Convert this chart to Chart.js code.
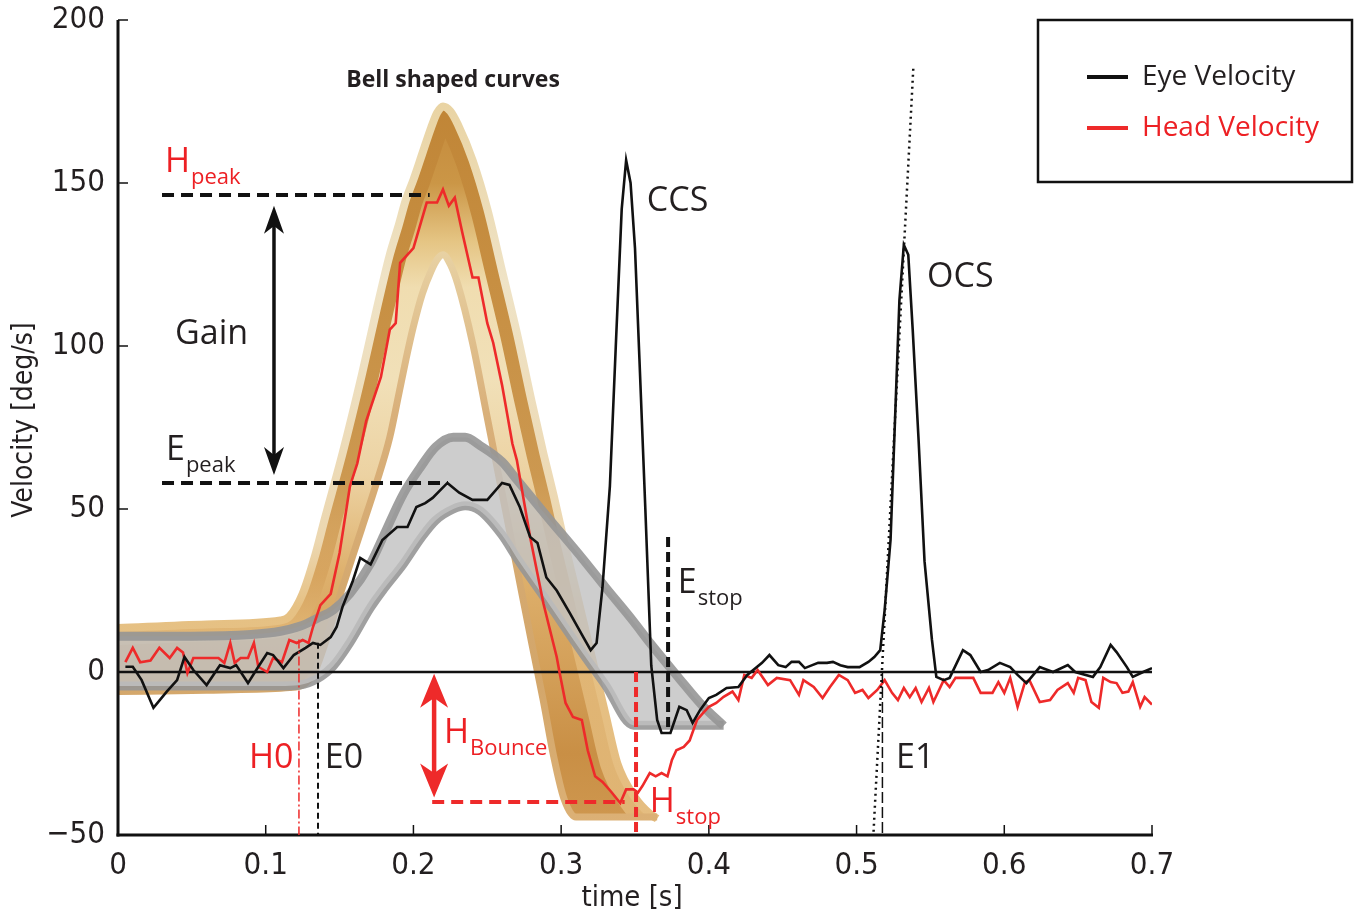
<!DOCTYPE html>
<html>
<head>
<meta charset="utf-8">
<script src="https://cdn.jsdelivr.net/npm/chart.js@4.4.1/dist/chart.umd.min.js"></script>
<style>
  html, body { margin: 0; padding: 0; background: #fff; }
  #wrap { width: 1358px; height: 918px; }
</style>
</head>
<body>
<div id="wrap"><canvas id="chart" width="1358" height="918"></canvas></div>
<script>
'use strict';

// ── Data ────────────────────────────────────────────────────────────────────

const Y_TICKS = [-50, 0, 50, 100, 150, 200];
const X_TICKS = [0, 0.1, 0.2, 0.3, 0.4, 0.5, 0.6, 0.7];

const eyeT = [0.005,0.010,0.016,0.024,0.033,0.040,0.045,0.051,0.060,0.069,0.076,0.080,0.088,0.095,0.101,0.105,
  0.112,0.119,0.127,0.132,0.137,0.144,0.148,0.152,0.159,0.164,0.171,0.179,0.189,0.196,0.202,0.208,0.213,0.223,
  0.231,0.240,0.250,0.260,0.265,0.272,0.279,0.284,0.290,0.297,0.306,0.315,0.320,0.324,0.328,0.333,0.337,0.341,
  0.344,0.347,0.350,0.353,0.357,0.361,0.365,0.368,0.374,0.380,0.385,0.389,0.394,0.400,0.405,0.412,0.420,0.426,
  0.436,0.441,0.447,0.452,0.456,0.461,0.465,0.470,0.474,0.480,0.484,0.489,0.494,0.502,0.508,0.512,0.516,0.519,
  0.523,0.526,0.529,0.532,0.535,0.538,0.542,0.546,0.551,0.554,0.559,0.563,0.572,0.577,0.584,0.589,0.597,0.604,
  0.609,0.615,0.624,0.633,0.643,0.648,0.660,0.665,0.672,0.676,0.683,0.687,0.694,0.700];
const eyeV = [1.6,1.6,-2.5,-11,-6,-2.5,4.6,0.6,-4,2.1,1.2,2.1,-3.4,1.6,5.8,5.2,
  1.2,5.2,7.4,8.9,8.3,10.7,13.8,20,28,35,33,40.5,44.5,44.5,50.6,51.8,53.4,58,
  55,52.8,52.8,58,57.4,50.6,41.4,39.6,29,25,18,10.7,6.7,8.9,26,57,100,142,
  157,150,130,96,50,2,-14.7,-18.7,-18.7,-10.7,-11.7,-15.6,-11.7,-8,-7,-4.9,-4.6,-0.9,
  2.8,5.2,2.1,1.5,3.1,3.1,1.2,2.1,2.8,2.8,3.1,2.1,1.5,1.5,3.1,4.6,6.7,19,
  40.5,77,114,131,128,105,71,34,10,-1.5,-2.5,-1.8,6.7,5.2,0,0.6,2.8,1.5,
  -0.9,-3.4,1.5,0,2.1,0,-1.5,1.5,8.3,6.1,1.5,-1.5,0,1.2];

const headT = [0.005,0.010,0.015,0.022,0.028,0.035,0.040,0.044,0.047,0.051,0.060,0.068,0.072,0.076,0.079,0.083,
  0.088,0.092,0.095,0.101,0.105,0.111,0.116,0.121,0.125,0.129,0.132,0.137,0.144,0.150,0.157,0.162,0.168,0.178,
  0.184,0.188,0.191,0.200,0.209,0.216,0.220,0.224,0.228,0.233,0.240,0.244,0.250,0.254,0.260,0.267,0.270,0.279,
  0.288,0.297,0.299,0.303,0.308,0.314,0.318,0.323,0.328,0.334,0.340,0.344,0.349,0.352,0.355,0.360,0.364,0.368,
  0.372,0.375,0.378,0.383,0.387,0.392,0.396,0.400,0.405,0.410,0.416,0.420,0.424,0.429,0.433,0.440,0.446,0.455,
  0.461,0.464,0.471,0.477,0.482,0.488,0.494,0.499,0.504,0.508,0.514,0.519,0.524,0.528,0.532,0.536,0.540,0.544,
  0.549,0.552,0.559,0.563,0.567,0.579,0.584,0.592,0.596,0.600,0.604,0.609,0.614,0.617,0.624,0.631,0.636,0.643,
  0.647,0.650,0.655,0.659,0.664,0.667,0.672,0.676,0.680,0.684,0.687,0.692,0.695,0.700];
const headV = [3,7.4,3,3.5,7.4,4.3,7.4,6,-0.3,4.3,4.3,4.3,2.8,8.9,2.8,4.3,
  4.3,8.9,1.6,0,4.3,3,9.8,8.9,9.8,8.9,13.8,20.5,24,36.5,57,64,77,90.5,
  105,107,125.5,130,144,144,148,143,145.5,135,121,121,107,101,88,70,65,41.4,
  21,4.6,-0.3,-9.5,-13.8,-14.7,-24,-32,-33.7,-36.8,-40.2,-36,-36,-37,-35,-31,-32,-31,
  -32,-27,-24,-23,-21,-14.7,-12.6,-10.7,-9.5,-7.6,-6,-8.6,-0.9,-1.8,0.6,-4,-1.8,-2.5,
  -7,-2.5,-4.6,-8,-4.6,-0.9,-2.5,-6.4,-5.5,-8,-5.5,-2.5,-6.4,-8.6,-4.9,-7.7,-4.9,-9.2,
  -4.9,-9.2,-2.5,-4.6,-1.8,-1.8,-6.4,-6.4,-3.1,-6.4,-1.8,-10.7,-3.1,-2.5,-9.2,-8.6,-5.5,-3.4,
  -6.4,-1.8,-2.5,-9.2,-11,-1.8,-3.1,-3.4,-6.4,-6,-3.1,-10.7,-7.7,-10];

// gold "bell shaped" envelope for head velocity
const goldT = [0,0.06,0.11,0.116,0.125,0.133,0.14,0.152,0.165,0.175,0.184,0.19,0.195,0.2,0.206,0.212,0.216,
  0.22,0.225,0.23,0.24,0.25,0.26,0.27,0.28,0.288,0.295,0.302,0.31,0.32,0.33,0.338,0.35,0.36,0.365];
const goldOuter = [13.5,14.6,15.8,17,24,35,47,67,91,111,128,137,145,151,159,167,171.5,
  173.5,172,168,157,142,123,104,83,67,54,40,25,6,-13,-28,-38.5,-43.5,-45];
const goldInner = [-6,-5.6,-5,-4.8,-4,0,8.5,26,44,58,72,85,96,106,116,123,126.5,
  128,125,119,101,78,55,32,9,-9,-26,-39,-44.5,-44.5,-44.5,-44.5,-44.5,-44.5,-44.5];

// gray envelope for eye velocity
const grayT = [0,0.05,0.09,0.11,0.123,0.135,0.1456,0.157,0.1706,0.18,0.193,0.205,0.215,0.227,0.235,0.245,
  0.26,0.27,0.29,0.315,0.33,0.349,0.36,0.38,0.395,0.41];
const grayUpper = [11,11,11.5,12.5,14,16.5,19,24,33,42,54.5,63,69,72,72,69.5,
  64.5,59,48,34.5,26,15.5,9,-2,-10,-16.5];
const grayLower = [-4.3,-4.3,-4.3,-4.3,-4,-2,1.8,9,19.5,25.5,33,41,46.5,50,51,49.5,
  42,35,22,5.5,-4,-16.3,-16.3,-16.3,-16.3,-16.3];

// ── Annotation positions (data units) ───────────────────────────────────────

const H_PEAK = 146.3, E_PEAK = 58, ANNOT_X0 = 0.0298;
const GAIN_X = 0.1056, GAIN_TOP = 143, GAIN_BOT = 60.4;
const BOUNCE_X = 0.214, BOUNCE_TOP = -0.5, BOUNCE_BOT = -38.5, BOUNCE_LVL = -39.9;
const H0_X = 0.1225, E0_X = 0.1354, HSTOP_X = 0.3507, ESTOP_X = 0.3724, E1_X = 0.5175;

const LABELS = [
  { t: 'Bell shaped curves', x: 0.2268, y: 179.5, size: 23, bold: true, color: '#231f20', align: 'center' },
  { t: 'H', sub: 'peak', x: 0.0318, y: 153.4, color: '#ed2024' },
  { t: 'Gain', x: 0.0386, y: 100.5, color: '#231f20' },
  { t: 'E', sub: 'peak', x: 0.0325, y: 65, color: '#231f20' },
  { t: 'CCS', x: 0.358, y: 141.4, color: '#231f20' },
  { t: 'OCS', x: 0.5477, y: 118, color: '#231f20' },
  { t: 'E', sub: 'stop', x: 0.379, y: 24.2, color: '#231f20' },
  { t: 'H0', x: 0.0887, y: -29.4, color: '#ed2024' },
  { t: 'E0', x: 0.140, y: -29.4, color: '#231f20' },
  { t: 'H', sub: 'Bounce', x: 0.2207, y: -21.8, color: '#ed2024' },
  { t: 'H', sub: 'stop', x: 0.360, y: -43, color: '#ed2024' },
  { t: 'E1', x: 0.5267, y: -29.4, color: '#231f20' },
];

const RED = '#ee2a2a';
const INK = '#231f20';
const TEXT_FONT = '"Open Sans", "Noto Sans", sans-serif';
const AXIS_FONT = '"Liberation Sans Narrow", "DejaVu Sans Condensed", sans-serif';

const pts = (xs, ys) => xs.map((x, i) => ({ x, y: ys[i] }));

// vertical gradient helper, stops given as [value, colour]
function vGrad(chart, stops, fallback) {
  const { chartArea, scales } = chart;
  if (!chartArea || !scales.y) return fallback;
  const y = scales.y;
  const top = stops[0][0], bot = stops[stops.length - 1][0];
  const g = chart.ctx.createLinearGradient(0, y.getPixelForValue(top), 0, y.getPixelForValue(bot));
  stops.forEach(([v, c]) => g.addColorStop((top - v) / (top - bot), c));
  return g;
}

const GOLD_FILL = [[176,'#c3883a'],[150,'#cb9646'],[132,'#e5c584'],[118,'#f0ddb0'],[90,'#f1e0b8'],
  [60,'#ecd2a2'],[30,'#deb06c'],[0,'#d39f58'],[-25,'#c98f45'],[-48,'#cf9850']];
const GOLD_SHADE = [[176,'#c08536'],[120,'#c78f42'],[60,'#cc9850'],[30,'rgba(212,160,90,0.7)'],
  [12,'rgba(226,184,120,0.9)'],[-48,'rgba(226,184,120,0.9)']];
const GOLD_OUTER = [[176,'#e9d3a2'],[120,'#efe3c6'],[40,'#ecd7b0'],[20,'#e6c184'],[-48,'#e5bd80']];
const GOLD_INNER = [[130,'#e8d2a4'],[80,'#d9b07a'],[0,'#d3a66a'],[-48,'#dcb176']];

// ── Plugins ─────────────────────────────────────────────────────────────────

// darker band running along the outer edge inside the gold ribbon
const ribbonShade = {
  id: 'ribbonShade',
  beforeDatasetDraw(chart, args) {
    if (args.index !== 5) return;
    const outerMeta = chart.getDatasetMeta(5);
    const inner = chart.getDatasetMeta(6).data;
    const outer = outerMeta.data;
    const ctx = chart.ctx;
    ctx.save();
    ctx.beginPath();
    outer.forEach((p, i) => (i ? ctx.lineTo(p.x, p.y) : ctx.moveTo(p.x, p.y)));
    for (let i = inner.length - 1; i >= 0; i--) ctx.lineTo(inner[i].x, inner[i].y);
    ctx.closePath();
    ctx.clip();
    ctx.beginPath();
    outerMeta.dataset.path(ctx);
    ctx.lineJoin = 'round';
    ctx.lineWidth = 34;
    ctx.strokeStyle = vGrad(chart, GOLD_SHADE, '#c98f45');
    ctx.stroke();
    ctx.restore();
  },
};

function line(ctx, x1, y1, x2, y2, color, width, dash) {
  ctx.save();
  ctx.strokeStyle = color;
  ctx.lineWidth = width;
  ctx.setLineDash(dash || []);
  ctx.beginPath();
  ctx.moveTo(x1, y1);
  ctx.lineTo(x2, y2);
  ctx.stroke();
  ctx.restore();
}

function head(ctx, x, yTip, dir, color, w, len) {
  ctx.save();
  ctx.fillStyle = color;
  ctx.beginPath();
  ctx.moveTo(x, yTip);
  ctx.lineTo(x - w / 2, yTip + dir * len);
  ctx.lineTo(x, yTip + dir * len * 0.72);
  ctx.lineTo(x + w / 2, yTip + dir * len);
  ctx.closePath();
  ctx.fill();
  ctx.restore();
}

const annotations = {
  id: 'annotations',
  afterDraw(chart) {
    const { ctx, chartArea: a, scales: { x, y } } = chart;
    const px = v => x.getPixelForValue(v);
    const py = v => y.getPixelForValue(v);

    // spines and inward ticks
    line(ctx, a.left, a.top, a.left, a.bottom + 1.5, '#111', 3);
    line(ctx, a.left - 1.5, a.bottom, a.right + 1, a.bottom, '#111', 3);
    Y_TICKS.forEach(v => line(ctx, a.left, py(v), a.left + 10, py(v), '#111', 1.5));
    X_TICKS.slice(1).forEach(v => line(ctx, px(v), a.bottom, px(v), a.bottom - 10, '#111', 1.5));

    // reference lines
    line(ctx, px(ANNOT_X0), py(H_PEAK), px(0.211), py(H_PEAK), '#111', 4, [12, 7]);
    line(ctx, px(ANNOT_X0), py(E_PEAK), px(0.2234), py(E_PEAK), '#111', 4, [12, 7]);
    line(ctx, px(ESTOP_X), py(41.4), px(ESTOP_X), py(-18.7), '#111', 4, [10, 5]);
    line(ctx, px(H0_X), py(10), px(H0_X), a.bottom, RED, 1.5, [9, 3, 2, 3]);
    line(ctx, px(E0_X), py(9), px(E0_X), a.bottom, '#111', 2, [6, 4]);
    line(ctx, px(HSTOP_X), py(0), px(HSTOP_X), a.bottom, RED, 4, [10, 5]);
    line(ctx, px(BOUNCE_X - 0.0013), py(BOUNCE_LVL), px(0.343), py(BOUNCE_LVL), RED, 4, [12, 7]);
    line(ctx, px(E1_X), py(0), px(E1_X), a.bottom, '#111', 1.5, [11, 4]);
    line(ctx, px(0.5115), py(-49), px(0.5385), py(186), '#111', 2.5, [2, 4]);

    // Gain arrow
    const gx = px(GAIN_X);
    line(ctx, gx, py(GAIN_TOP) + 12, gx, py(GAIN_BOT) - 12, '#111', 3.5);
    head(ctx, gx, py(GAIN_TOP), 1, '#111', 20, 28);
    head(ctx, gx, py(GAIN_BOT), -1, '#111', 20, 28);

    // H bounce arrow
    const bx = px(BOUNCE_X);
    line(ctx, bx, py(BOUNCE_TOP) + 14, bx, py(BOUNCE_BOT) - 14, RED, 4.5);
    head(ctx, bx, py(BOUNCE_TOP), 1, RED, 28, 34);
    head(ctx, bx, py(BOUNCE_BOT), -1, RED, 28, 34);

    // text labels
    ctx.save();
    ctx.textBaseline = 'alphabetic';
    LABELS.forEach(l => {
      const size = l.size || 34;
      ctx.fillStyle = l.color;
      ctx.textAlign = l.align || 'left';
      ctx.font = `${l.bold ? 'bold ' : ''}${size}px ${TEXT_FONT}`;
      const lx = px(l.x), ly = py(l.y);
      ctx.fillText(l.t, lx, ly);
      if (l.sub) {
        const w = ctx.measureText(l.t).width;
        ctx.font = `22px ${TEXT_FONT}`;
        ctx.fillText(l.sub, lx + w + 1, ly + 12);
      }
    });

    // axis titles
    ctx.fillStyle = INK;
    ctx.font = `29px ${AXIS_FONT}`;
    ctx.textAlign = 'center';
    ctx.fillText('time [s]', 632, 906);
    ctx.save();
    ctx.translate(32, 420);
    ctx.rotate(-Math.PI / 2);
    ctx.font = `28px ${AXIS_FONT}`;
    ctx.fillText('Velocity [deg/s]', 0, 0);
    ctx.restore();

    // legend box
    ctx.strokeStyle = '#111';
    ctx.lineWidth = 2.5;
    ctx.strokeRect(1038, 20, 314, 162);
    ctx.font = `28px ${TEXT_FONT}`;
    ctx.textAlign = 'left';
    ctx.textBaseline = 'middle';
    [chart.data.datasets[0], chart.data.datasets[1]].forEach((ds, i) => {
      const ly = 77 + i * 51;
      line(ctx, 1087, ly, 1128, ly, ds.borderColor, 4);
      ctx.fillStyle = i === 0 ? INK : '#ed2024';
      ctx.fillText(ds.label, 1142, ly);
    });
    ctx.restore();
  },
};

// ── Chart ───────────────────────────────────────────────────────────────────

new Chart(document.getElementById('chart'), {
  type: 'line',
  data: {
    datasets: [
      { label: 'Eye Velocity', data: pts(eyeT, eyeV), borderColor: '#111', borderWidth: 2.6,
        pointRadius: 0, tension: 0, fill: false, order: 0 },
      { label: 'Head Velocity', data: pts(headT, headV), borderColor: RED, borderWidth: 2.6,
        pointRadius: 0, tension: 0, fill: false, order: 1 },
      { label: 'zero', data: [{ x: 0, y: 0 }, { x: 0.7, y: 0 }], borderColor: '#111', borderWidth: 2.6,
        pointRadius: 0, fill: false, order: 2 },
      { label: 'eye envelope', data: pts(grayT, grayUpper), borderColor: 'rgba(150,150,150,0.9)',
        borderWidth: 9, backgroundColor: 'rgba(194,194,194,0.82)', fill: 4, pointRadius: 0,
        cubicInterpolationMode: 'monotone', order: 3 },
      { label: 'eye envelope low', data: pts(grayT, grayLower), borderColor: 'rgba(150,150,150,0.9)',
        borderWidth: 9, fill: false, pointRadius: 0, cubicInterpolationMode: 'monotone', order: 4 },
      { label: 'head envelope', data: pts(goldT, goldOuter),
        borderColor: c => vGrad(c.chart, GOLD_OUTER, '#ecd8b0'), borderWidth: 8,
        backgroundColor: c => vGrad(c.chart, GOLD_FILL, '#d9a860'), fill: 6, pointRadius: 0,
        cubicInterpolationMode: 'monotone', order: 6 },
      { label: 'head envelope low', data: pts(goldT, goldInner),
        borderColor: c => vGrad(c.chart, GOLD_INNER, '#dab47c'), borderWidth: 7, fill: false,
        pointRadius: 0, cubicInterpolationMode: 'monotone', order: 5 },
    ],
  },
  options: {
    responsive: false,
    animation: false,
    devicePixelRatio: 1,
    layout: { padding: { left: 0, top: 20, right: 206, bottom: 0 } },
    plugins: { legend: { display: false }, tooltip: { enabled: false } },
    scales: {
      x: {
        type: 'linear', min: 0, max: 0.7,
        afterFit: s => { s.height = 83; },
        afterBuildTicks: s => { s.ticks = X_TICKS.map(value => ({ value })); },
        grid: { display: false, drawTicks: false },
        border: { display: false },
        ticks: {
          padding: 12, color: INK, font: { family: AXIS_FONT, size: 31 },
          callback: v => (v === 0 ? '0' : v.toFixed(1)),
        },
      },
      y: {
        min: -50, max: 200,
        afterFit: s => { s.width = 118; s.paddingTop = 0; s.paddingBottom = 0; },
        afterBuildTicks: s => { s.ticks = Y_TICKS.map(value => ({ value })); },
        grid: { display: false, drawTicks: false },
        border: { display: false },
        ticks: {
          padding: 13, color: INK, font: { family: AXIS_FONT, size: 31 },
          callback: v => (v < 0 ? '\u2212' + Math.abs(v) : String(v)),
        },
      },
    },
  },
  plugins: [ribbonShade, annotations],
});
</script>
</body>
</html>
